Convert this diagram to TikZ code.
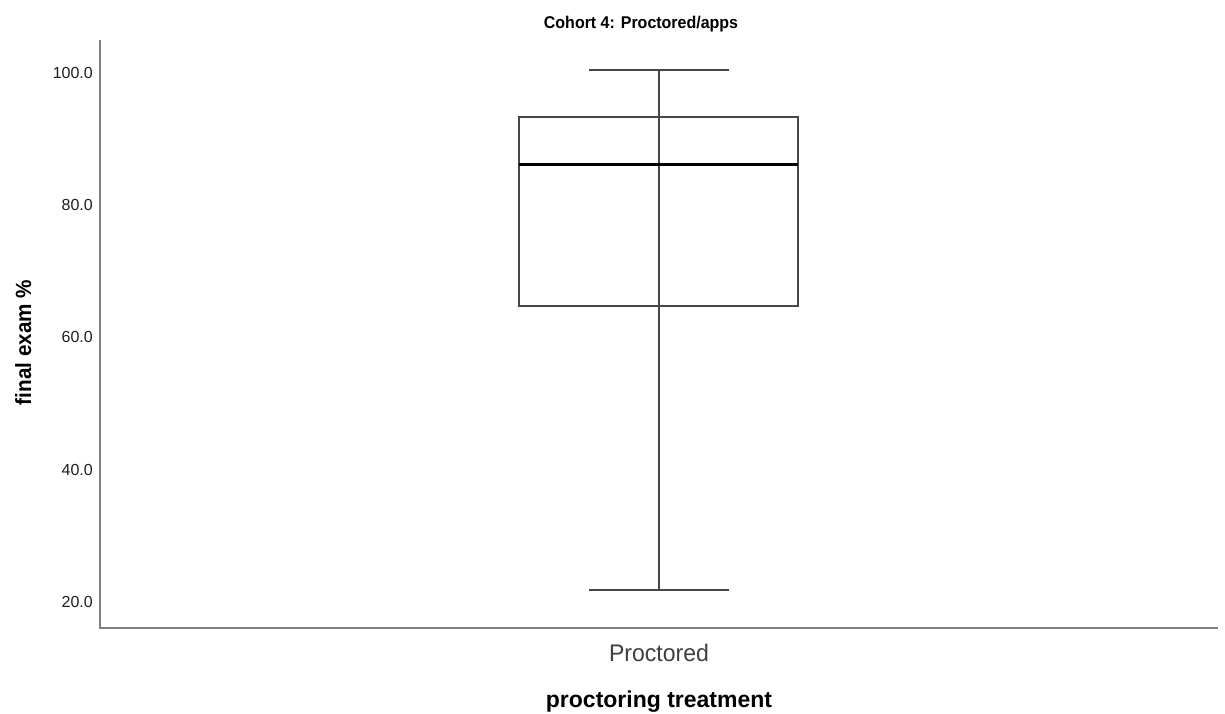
\documentclass[tikz,border=0pt]{standalone}
\usepackage{fontspec}
\setmainfont{Liberation Sans}
\usepackage{graphicx}
\begin{document}
\begin{tikzpicture}[x=1pt,y=-1pt,
  axisline/.style={draw=black!50, line width=1.5pt},
  boxline/.style={draw=black!72, line width=1.9pt},
  medianline/.style={draw=black, line width=3pt},
  ticklabel/.style={anchor=east, inner sep=0pt, text=black!88,
    font=\fontsize{16}{16}\selectfont},
  plainlabel/.style={inner sep=0pt, anchor=base},
]
\useasboundingbox (0,0) rectangle (1225,713);
\fill[white] (0,0) rectangle (1225,713);

% axes
\coordinate (ytop) at (100,40);
\coordinate (origin) at (100,628);
\coordinate (xend) at (1218,628);
\draw[axisline] (ytop) -- (origin) -- (xend);

% y tick labels
\foreach \v/\y [count=\i] in {100.0/73, 80.0/204.5, 60.0/337, 40.0/469.5, 20.0/601.5}
  \node[ticklabel] (tick\i) at (93,\y) {\v};

% box plot: whiskers, box and median
\coordinate (wtop) at (659,69.7);
\coordinate (wbot) at (659,590);
\coordinate (boxtl) at (519,116.7);
\coordinate (boxbr) at (798,306);
\draw[boxline] (wtop) -- (wbot);
\draw[boxline] (589,69.7) -- (729,69.7);
\draw[boxline] (589,590) -- (729,590);
\draw[boxline] (boxtl) rectangle (boxbr);
\draw[medianline] (519,164) -- (798,164);

% titles and labels
\node[plainlabel, font=\bfseries\fontsize{17}{17}\selectfont] (title) at (641,28)
  {\scalebox{0.94}[1]{Cohort 4: Proctored/apps}};
\node[plainlabel, rotate=90, font=\bfseries\fontsize{22}{22}\selectfont] (ylabel) at (31,342.5)
  {\scalebox{0.94}[1]{final exam \%}};
\node[plainlabel, text=black!75, font=\fontsize{24}{24}\selectfont] (cat) at (659,661)
  {\scalebox{0.96}[1]{Proctored}};
\node[plainlabel, font=\bfseries\fontsize{23}{23}\selectfont] (xlabel) at (659,707)
  {proctoring treatment};
\end{tikzpicture}
\end{document}
